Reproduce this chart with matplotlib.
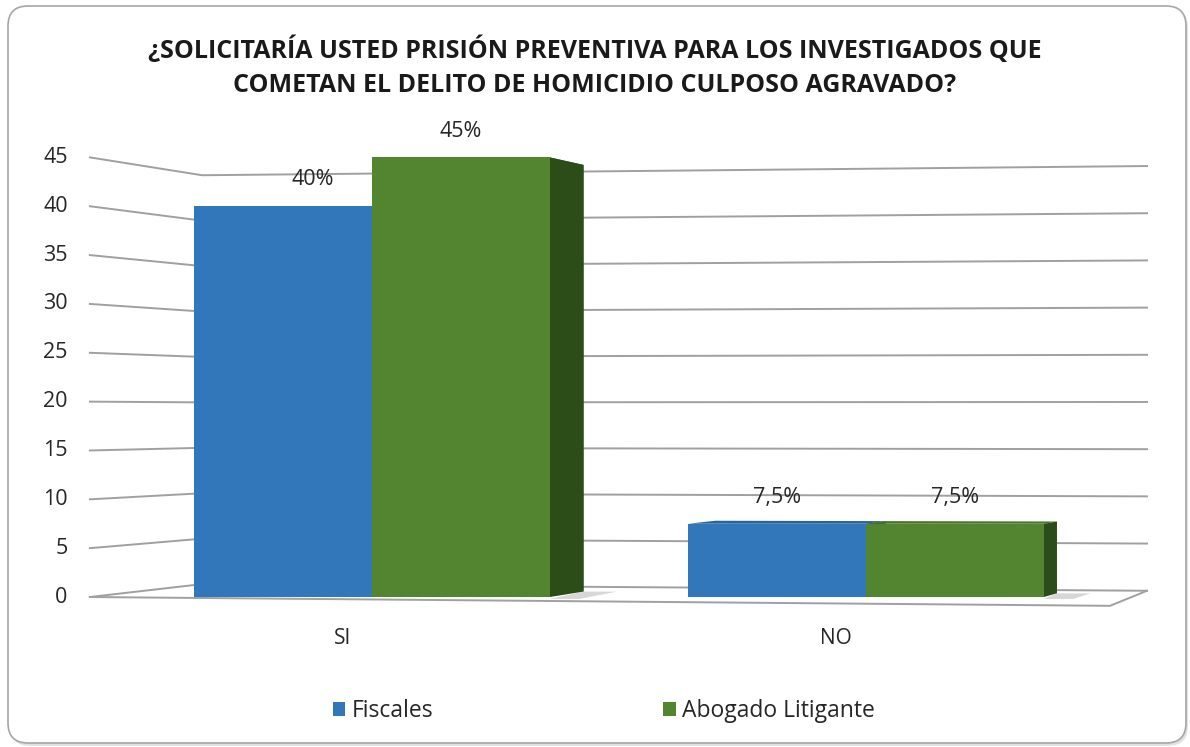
import matplotlib.pyplot as plt
from matplotlib.patches import Polygon, FancyBboxPatch, Patch

categories = ['SI', 'NO']
series = ['Fiscales', 'Abogado Litigante']
fiscales = [40, 7.5]
abogados = [45, 7.5]
value_labels = [['40%', '7,5%'], ['45%', '7,5%']]
yticks = [0, 5, 10, 15, 20, 25, 30, 35, 40, 45]
title = ('¿SOLICITARÍA USTED PRISIÓN PREVENTIVA PARA LOS INVESTIGADOS QUE\n'
         'COMETAN EL DELITO DE HOMICIDIO CULPOSO AGRAVADO?')

front_colors = ['#3177BA', '#538430']
top_colors = ['#2A64A0', '#48752A']
side_colors = ['#22507F', '#2D4D18']
grid_color = '#A0A0A0'
text_color = '#262626'

plt.rcParams['font.family'] = ['Open Sans', 'DejaVu Sans']

# fake 3D: shrink toward a vanishing point as depth grows
VX, VY = 2.674, 18.9
WALL_L, WALL_R = -0.571, 1.53
BAR_W = 0.36
BAR_D = 0.55


def project(x, y, d):
    k = 0.07 - 0.01717 * (x - WALL_L)
    s = 1 - d * k
    return VX + (x - VX) * s, VY + (y - VY) * s


fig = plt.figure(figsize=(11.9, 7.47), dpi=100)

# outer frame
bg = fig.add_axes([0, 0, 1, 1])
bg.set_xlim(0, 1190)
bg.set_ylim(747, 0)
bg.axis('off')
bg.add_patch(FancyBboxPatch((10, 8), 1178, 738, boxstyle='round,pad=0,rounding_size=20',
                            fc='#D0D0D0', ec='none', alpha=0.6))
bg.add_patch(FancyBboxPatch((8, 6), 1178, 737, boxstyle='round,pad=0,rounding_size=20',
                            fc='white', ec='#A6A6A6', lw=1.2))

ax = fig.add_axes([0.0635, 0.1223, 0.9133, 0.7324])
ax.set_xlim(-0.6, 1.6)
ax.set_ylim(-6, 50)
ax.axis('off')

# walls / grid
for v in yticks:
    bx, by = project(WALL_L, v, 1)
    rx, ry = project(WALL_R, v, 1)
    ax.plot([WALL_L, bx, rx], [v, by, ry], color=grid_color, lw=1.4, zorder=1)
    ax.text(WALL_L - 0.045, v, str(v), ha='right', va='center', fontsize=15.5, color=text_color)

# floor front edge, a little tilted like the original
rx, ry = project(WALL_R, 0, 1)
ax.plot([WALL_L, WALL_R - 0.036, rx], [0, -0.9, ry], color=grid_color, lw=1.4, zorder=1)

# soft floor shadows next to the bars
for i in range(len(categories)):
    x1 = i + BAR_W
    sx, sy = project(x1 + 0.07, 0, BAR_D)
    ax.add_patch(Polygon([(x1, -0.2), (x1 + 0.06, -0.2), (sx, sy), project(x1, 0, BAR_D)],
                         closed=True, fc='#BDBDBD', ec='none', alpha=0.6, zorder=2))

# bars
for i, cat in enumerate(categories):
    vals = [fiscales[i], abogados[i]]
    for j, v in enumerate(vals):
        x0 = i - BAR_W + j * BAR_W
        x1 = x0 + BAR_W
        top = [(x0, v), (x1, v), project(x1, v, BAR_D), project(x0, v, BAR_D)]
        side = [(x1, 0), (x1, v), project(x1, v, BAR_D), project(x1, 0, BAR_D)]
        front = [(x0, 0), (x1, 0), (x1, v), (x0, v)]
        ax.add_patch(Polygon(top, closed=True, fc=top_colors[j], ec='none', zorder=3 + j))
        ax.add_patch(Polygon(side, closed=True, fc=side_colors[j], ec='none', zorder=3 + j))
        ax.add_patch(Polygon(front, closed=True, fc=front_colors[j], ec='none', zorder=3 + j))
        dx = 0.06 if (i == 0 and j == 0) else 0
        ax.text((x0 + x1) / 2 + dx, v + 2.7, value_labels[j][i], ha='center', va='center',
                fontsize=15.5, color=text_color, zorder=6)
    ax.text(i - 0.06, -4.2, cat, ha='center', va='center', fontsize=15, color=text_color)

fig.text(0.5, 1 - 67 / 747, title, ha='center', va='center', fontsize=18,
         fontweight='bold', linespacing=1.45, color='#1A1A1A')

handles = [Patch(fc=front_colors[0]), Patch(fc=front_colors[1])]
fig.legend(handles, series, loc='center', bbox_to_anchor=(0.5076, 1 - 711 / 747), ncol=2,
           frameon=False, fontsize=16.5, handlelength=0.55, handleheight=0.55,
           handletextpad=0.3, columnspacing=10.0, labelcolor=text_color)

fig.savefig('out.png', dpi=100)
